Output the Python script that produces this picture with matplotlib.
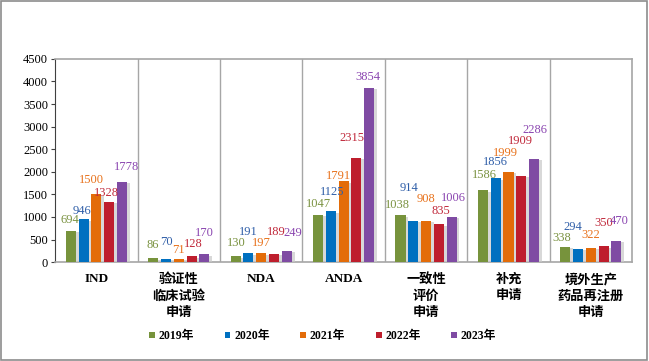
import numpy as np
import matplotlib.pyplot as plt
import matplotlib.patheffects as pe
from matplotlib.patches import Rectangle

plt.rcParams['font.family'] = ['Liberation Serif', 'Noto Sans CJK SC', 'DejaVu Sans']

categories = ['IND', '验证性\n临床试验\n申请', 'NDA', 'ANDA', '一致性\n评价\n申请',
              '补充\n申请', '境外生产\n药品再注册\n申请']
years = ['2019年', '2020年', '2021年', '2022年', '2023年']
v2019 = [694, 86, 130, 1047, 1038, 1586, 338]
v2020 = [946, 70, 191, 1125, 914, 1856, 294]
v2021 = [1500, 71, 197, 1791, 908, 1999, 322]
v2022 = [1328, 128, 189, 2315, 835, 1909, 350]
v2023 = [1778, 170, 249, 3854, 1006, 2286, 470]
series = [v2019, v2020, v2021, v2022, v2023]

bar_colors = ['#77933C', '#0070C0', '#E36C09', '#BE1E2D', '#7F4BA3']
label_colors = ['#7A9240', '#2F5EA8', '#E8721C', '#C0283A', '#8A45B0']

# label nudges (pixels) as placed in the original, to mimic its overlaps
label_dx = [[-1, 0, 1, 0, -3.5, 1, -3.5],
            [-2, 0.5, 0, 1, -4, 0, -5],
            [-5, -0.5, 0.5, -5, 0, -3, 0],
            [-2.5, 1.5, 2, -4, 2, -1, 0],
            [4.5, 0.5, 6, -1.5, 2, 1, 3]]
label_dy = [[11, 13, 13, 10.5, 10, 15, 9],
            [8, 17, 21, 19, 33, 16, 22],
            [14, 9, 10, 5, 22.5, 19, 12.5],
            [9, 12, 22, 20, 13.5, 34.5, 23],
            [15, 21, 18, 11, 19, 29, 20]]

fig = plt.figure(figsize=(6.49, 3.61), dpi=100)
fig.patches.append(Rectangle((0.002, 0.004), 0.995, 0.992, transform=fig.transFigure,
                             fill=False, edgecolor='#8C8C8C', linewidth=1.2))
ax = fig.add_axes([0.085, 0.274, 0.889, 0.563])

x = np.arange(len(categories))
step = 0.155
width = 0.122
shadow = [pe.SimplePatchShadow(offset=(2, -1), shadow_rgbFace='#C8C8C8', alpha=0.7), pe.Normal()]
for i, vals in enumerate(series):
    pos = x + (i - 2) * step
    bars = ax.bar(pos, vals, width, color=bar_colors[i], label=years[i], zorder=3)
    for b in bars:
        b.set_path_effects(shadow)
    for j, (px, v) in enumerate(zip(pos, vals)):
        ax.annotate(str(v), (px, v), xytext=(label_dx[i][j], label_dy[i][j]),
                    textcoords='offset pixels', ha='center', va='center',
                    fontsize=9, color=label_colors[i], zorder=4)

ax.set_xlim(-0.5, len(categories) - 0.5)
ax.set_ylim(0, 4500)
ax.set_yticks(np.arange(0, 4501, 500))
ax.tick_params(axis='y', labelsize=9, length=3, color='#404040', pad=2)
ax.set_xticks(x)
ax.set_xticklabels(categories, fontsize=9.5, fontweight='bold', linespacing=1.45, va='top')
ax.tick_params(axis='x', length=0, pad=8)

for k in range(1, len(categories)):
    ax.axvline(k - 0.5, color='#A6A6A6', linewidth=1, zorder=1)

for s in ['top', 'right', 'bottom']:
    ax.spines[s].set_color('#A6A6A6')
    ax.spines[s].set_linewidth(1.2)
ax.spines['left'].set_color('#404040')
ax.spines['left'].set_linewidth(0.8)

leg = fig.legend(loc='center', bbox_to_anchor=(0.497, 0.069), ncol=5, frameon=False,
                 prop={'size': 8.5, 'weight': 'bold'}, handlelength=0.5, handleheight=0.5,
                 handletextpad=0.3, columnspacing=2.6)
for h in leg.legend_handles:
    h.set_path_effects([])

fig.savefig('out.png', dpi=100)
